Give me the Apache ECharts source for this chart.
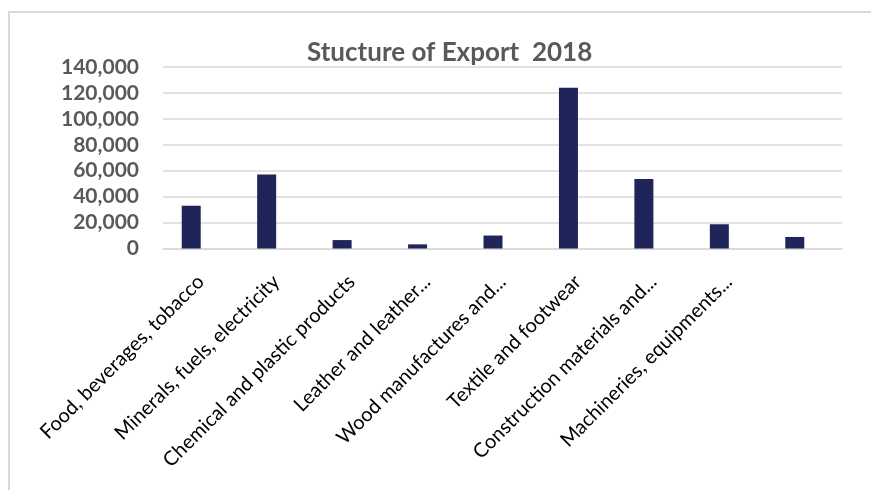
<!DOCTYPE html>
<html>
<head>
<meta charset="utf-8">
<title>Stucture of Export 2018</title>
<script src="https://cdn.jsdelivr.net/npm/echarts@6/dist/echarts.min.js"></script>
<style>
  html, body { margin: 0; padding: 0; background: #ffffff; }
  #chart { width: 871px; height: 490px; }
</style>
</head>
<body>
<div id="chart"></div>
<script>
// Export categories (the last one carries no label in the axis)
const categories = [
  'Food, beverages, tobacco',
  'Minerals, fuels, electricity',
  'Chemical and plastic products',
  'Leather and leather...',
  'Wood manufactures and...',
  'Textile and footwear',
  'Construction materials and...',
  'Machineries, equipments...',
  ''
];

// Export values, 2018
const exports2018 = [33000, 57000, 6500, 3200, 10000, 124000, 53600, 18700, 8900];

// Second column of the source table holds no values
const emptyColumn = [null, null, null, null, null, null, null, null, null];

// Value-axis tick settings
const yMin = 0;
const yMax = 140000;
const yStep = 20000;

const chart = echarts.init(document.getElementById('chart'));

const gray = '#595959';
const gridGray = '#d9d9d9';
const font = 'Lato, "Open Sans", sans-serif';

chart.setOption({
  animation: false,
  backgroundColor: '#ffffff',
  graphic: [
    {
      type: 'polyline',
      silent: true,
      shape: { points: [[9, 490], [9, 12], [871, 12]] },
      style: { stroke: gridGray, lineWidth: 2, fill: null }
    }
  ],
  title: {
    text: 'Stucture of Export  2018',
    left: 302,
    top: 35,
    textStyle: {
      fontFamily: font,
      fontWeight: 'bold',
      fontSize: 26,
      color: gray
    }
  },
  grid: {
    left: 163,
    right: 29,
    top: 67,
    bottom: 490 - 248.5
  },
  xAxis: {
    type: 'category',
    data: categories,
    axisLine: { show: true, lineStyle: { color: gridGray, width: 1.5 } },
    axisTick: { show: false },
    axisLabel: {
      interval: 0,
      rotate: 45,
      margin: 30,
      fontFamily: font,
      fontSize: 20,
      color: '#000000'
    }
  },
  yAxis: {
    type: 'value',
    min: yMin,
    max: yMax,
    interval: yStep,
    axisLine: { show: false },
    axisTick: { show: false },
    splitLine: { lineStyle: { color: gridGray, width: 1.5 } },
    axisLabel: {
      margin: 24,
      fontFamily: font,
      fontWeight: 'bold',
      fontSize: 21,
      color: gray,
      formatter: function (v) { return v.toLocaleString('en-US'); }
    }
  },
  series: [
    {
      name: 'Export 2018',
      type: 'bar',
      data: exports2018,
      barWidth: 19,
      barGap: '0%',
      itemStyle: { color: '#1f2558' }
    },
    {
      name: '',
      type: 'bar',
      data: emptyColumn,
      barWidth: 19,
      barGap: '0%'
    }
  ]
});
</script>
</body>
</html>
